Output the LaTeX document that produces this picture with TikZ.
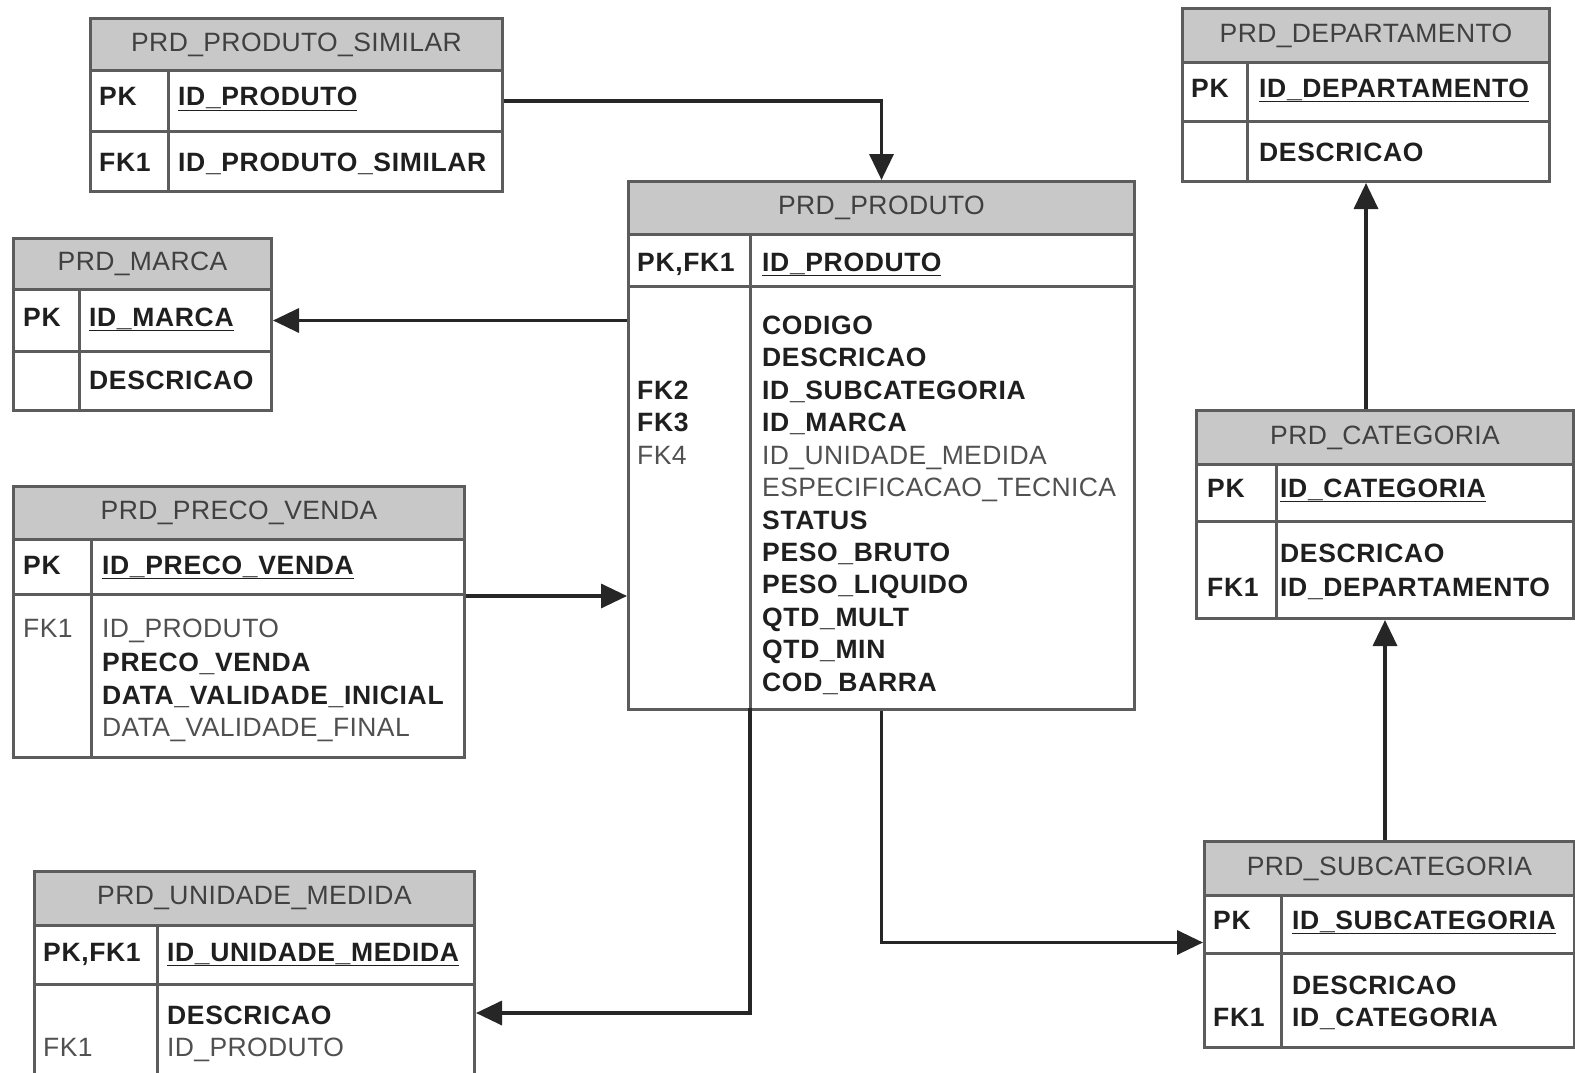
\documentclass[tikz,border=0pt]{standalone}
\usepackage{fontspec}
\setmainfont[LetterSpace=1.5, BoldFeatures={LetterSpace=2.5}]{Liberation Sans}
\usetikzlibrary{arrows.meta}
\definecolor{hdrgray}{HTML}{C8C8C8}
\definecolor{linegray}{HTML}{5C5C5C}
\definecolor{txtgray}{HTML}{505050}
\newcommand\erdfont{\fontsize{26.5}{32}\selectfont}
\tikzset{
  hdr/.style={draw=linegray, line width=3pt, fill=hdrgray, inner sep=0pt, anchor=north west, text=black!75, font=\erdfont},
  row/.style={draw=linegray, line width=3pt, inner sep=0pt, anchor=north west},
  sep/.style={draw=linegray, line width=3pt},
  fld/.style={anchor=base west, inner sep=0pt, text=black!88, font=\erdfont\bfseries},
  opt/.style={anchor=base west, inner sep=0pt, text=txtgray, font=\erdfont},
  fk/.style={draw=black!85, line width=3.5pt, -{Triangle[length=26pt,width=24pt]}},
}
\begin{document}
\begin{tikzpicture}[x=1pt, y=-1pt]
\useasboundingbox (0,0) rectangle (1575,1073);

% PRD_PRODUTO_SIMILAR
\node[hdr, minimum width=412pt, minimum height=52pt] (simH) at (89,17) {PRD\_PRODUTO\_SIMILAR};
\node[row, minimum width=412pt, minimum height=61pt] (simK) at (89,69) {};
\node[row, minimum width=412pt, minimum height=60pt] (simB) at (89,130) {};
\draw[sep] (168,69) -- (168,190);
\node[fld] (simK1) at (99,106) {PK};
\node[fld] (simK2) at (178,106) {\underline{ID\_PRODUTO}};
\node[fld] (simB1) at (99,171) {FK1};
\node[fld] (simB2) at (178,171) {ID\_PRODUTO\_SIMILAR};

% PRD_MARCA
\node[hdr, minimum width=258pt, minimum height=51pt] (marH) at (12,237) {PRD\_MARCA};
\node[row, minimum width=258pt, minimum height=62pt] (marK) at (12,288) {};
\node[row, minimum width=258pt, minimum height=59pt] (marB) at (12,350) {};
\draw[sep] (79,288) -- (79,409);
\node[fld] (marK1) at (23,326) {PK};
\node[fld] (marK2) at (89,326) {\underline{ID\_MARCA}};
\node[fld] (marB1) at (89,389) {DESCRICAO};

% PRD_PRECO_VENDA
\node[hdr, minimum width=451pt, minimum height=53pt] (preH) at (12,485) {PRD\_PRECO\_VENDA};
\node[row, minimum width=451pt, minimum height=55pt] (preK) at (12,538) {};
\node[row, minimum width=451pt, minimum height=163pt] (preB) at (12,593) {};
\draw[sep] (91,538) -- (91,756);
\node[fld] (preK1) at (23,574) {PK};
\node[fld] (preK2) at (102,574) {\underline{ID\_PRECO\_VENDA}};
\node[opt] (preB0) at (23,637) {FK1};
\node[opt] (preB1) at (102,637) {ID\_PRODUTO};
\node[fld] (preB2) at (102,671) {PRECO\_VENDA};
\node[fld] (preB3) at (102,704) {DATA\_VALIDADE\_INICIAL};
\node[opt] (preB4) at (102,736) {DATA\_VALIDADE\_FINAL};

% PRD_UNIDADE_MEDIDA
\node[hdr, minimum width=440pt, minimum height=54pt] (uniH) at (33,870) {PRD\_UNIDADE\_MEDIDA};
\node[row, minimum width=440pt, minimum height=59pt] (uniK) at (33,924) {};
\node[row, minimum width=440pt, minimum height=100pt] (uniB) at (33,983) {};
\draw[sep] (157,924) -- (157,1083);
\node[fld] (uniK1) at (43,961) {PK,FK1};
\node[fld] (uniK2) at (167,961) {\underline{ID\_UNIDADE\_MEDIDA}};
\node[fld] (uniB1) at (167,1024) {DESCRICAO};
\node[opt] (uniB0) at (43,1056) {FK1};
\node[opt] (uniB2) at (167,1056) {ID\_PRODUTO};

% PRD_PRODUTO
\node[hdr, minimum width=506pt, minimum height=53pt] (prdH) at (627,180) {PRD\_PRODUTO};
\node[row, minimum width=506pt, minimum height=52pt] (prdK) at (627,233) {};
\node[row, minimum width=506pt, minimum height=423pt] (prdB) at (627,285) {};
\draw[sep] (750,233) -- (750,708);
\coordinate (prdDiv) at (750,708);
\node[fld] (prdK1) at (637,271) {PK,FK1};
\node[fld] (prdK2) at (762,271) {\underline{ID\_PRODUTO}};
\node[fld] (prdF2) at (637,399) {FK2};
\node[fld] (prdF3) at (637,431) {FK3};
\node[opt] (prdF4) at (637,464) {FK4};
\node[fld] (prdB0) at (762,334) {CODIGO};
\node[fld] (prdB1) at (762,366) {DESCRICAO};
\node[fld] (prdB2) at (762,399) {ID\_SUBCATEGORIA};
\node[fld] (prdB3) at (762,431) {ID\_MARCA};
\node[opt] (prdB4) at (762,464) {ID\_UNIDADE\_MEDIDA};
\node[opt] (prdB5) at (762,496) {ESPECIFICACAO\_TECNICA};
\node[fld] (prdB6) at (762,529) {STATUS};
\node[fld] (prdB7) at (762,561) {PESO\_BRUTO};
\node[fld] (prdB8) at (762,593) {PESO\_LIQUIDO};
\node[fld] (prdB9) at (762,626) {QTD\_MULT};
\node[fld] (prdB10) at (762,658) {QTD\_MIN};
\node[fld] (prdB11) at (762,691) {COD\_BARRA};

% PRD_DEPARTAMENTO
\node[hdr, minimum width=367pt, minimum height=54pt] (depH) at (1181,7) {PRD\_DEPARTAMENTO};
\node[row, minimum width=367pt, minimum height=59pt] (depK) at (1181,61) {};
\node[row, minimum width=367pt, minimum height=60pt] (depB) at (1181,120) {};
\draw[sep] (1247,61) -- (1247,180);
\node[fld] (depK1) at (1191,97) {PK};
\node[fld] (depK2) at (1259,97) {\underline{ID\_DEPARTAMENTO}};
\node[fld] (depB1) at (1259,161) {DESCRICAO};

% PRD_CATEGORIA
\node[hdr, minimum width=377pt, minimum height=54pt] (catH) at (1195,409) {PRD\_CATEGORIA};
\node[row, minimum width=377pt, minimum height=57pt] (catK) at (1195,463) {};
\node[row, minimum width=377pt, minimum height=97pt] (catB) at (1195,520) {};
\draw[sep] (1276,463) -- (1276,617);
\node[fld] (catK1) at (1207,497) {PK};
\node[fld] (catK2) at (1280,497) {\underline{ID\_CATEGORIA}};
\node[fld] (catB1) at (1280,562) {DESCRICAO};
\node[fld] (catB0) at (1207,596) {FK1};
\node[fld] (catB2) at (1280,596) {ID\_DEPARTAMENTO};

% PRD_SUBCATEGORIA
\node[hdr, minimum width=370pt, minimum height=54pt] (subH) at (1203,840) {PRD\_SUBCATEGORIA};
\node[row, minimum width=370pt, minimum height=58pt] (subK) at (1203,894) {};
\node[row, minimum width=370pt, minimum height=94pt] (subB) at (1203,952) {};
\draw[sep] (1281,894) -- (1281,1046);
\node[fld] (subK1) at (1213,929) {PK};
\node[fld] (subK2) at (1292,929) {\underline{ID\_SUBCATEGORIA}};
\node[fld] (subB1) at (1292,994) {DESCRICAO};
\node[fld] (subB0) at (1213,1026) {FK1};
\node[fld] (subB2) at (1292,1026) {ID\_CATEGORIA};

% relacionamentos
\draw[fk] (simK.east) -| (prdH.north);
\draw[fk] (prdB.west |- marK.east) -- (marK.east);
\draw[fk] (preK.south east) -- (preK.south east -| prdB.west);
\draw[fk] (prdDiv) |- ([yshift=-27pt]uniK.south east);
\draw[fk] (prdB.south) |- ([yshift=-18pt]subK.west);
\draw[fk] (catH.north -| depB.south) -- (depB.south);
\draw[fk] (subH.north -| catB.south) -- (catB.south);
\end{tikzpicture}
\end{document}
